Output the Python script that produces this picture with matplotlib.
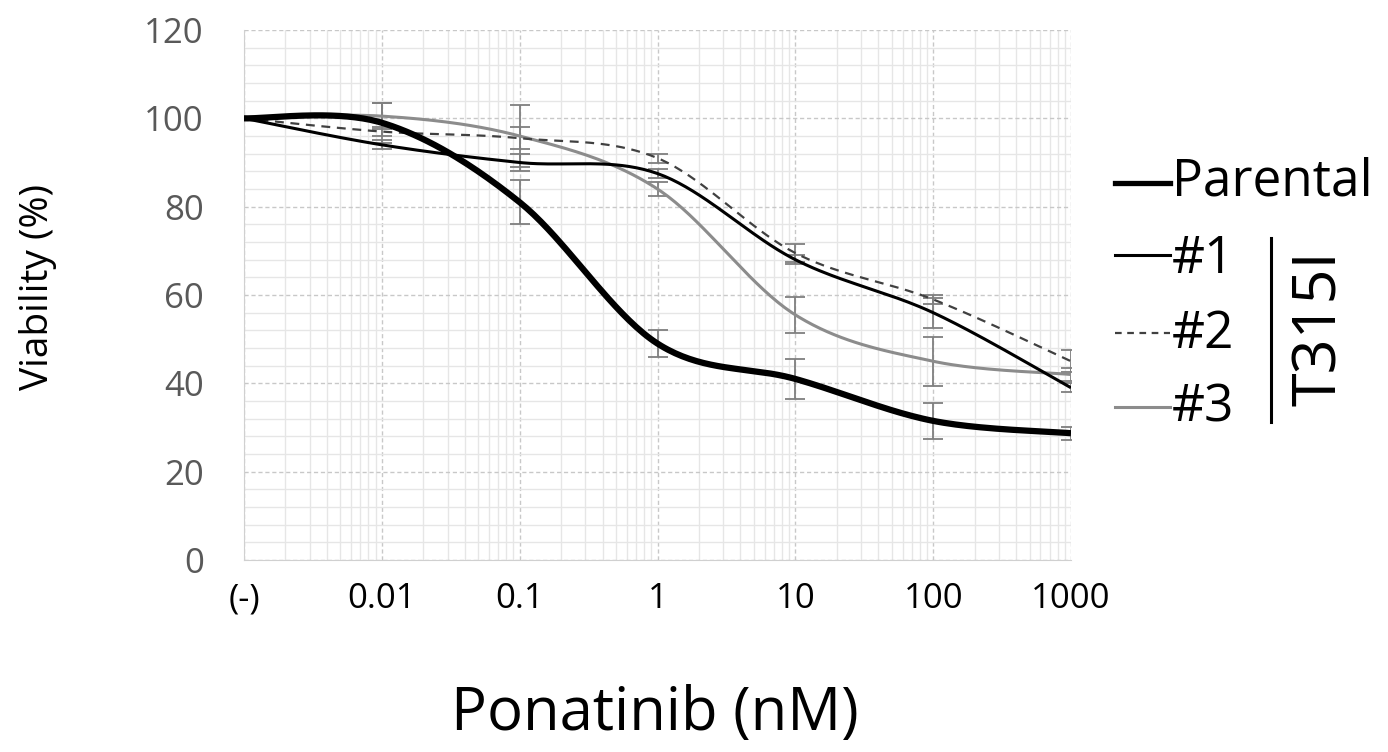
import numpy as np
import matplotlib
matplotlib.use("Agg")
import matplotlib.pyplot as plt
from matplotlib.ticker import FixedLocator, NullFormatter, MultipleLocator

plt.rcParams['font.family'] = ['Open Sans', 'DejaVu Sans']

# concentrations (nM); 0.001 stands in for the untreated "(-)" point
conc = [0.001, 0.01, 0.1, 1, 10, 100, 1000]
tick_labels = ["(-)", "0.01", "0.1", "1", "10", "100", "1000"]

parental     = [100, 99, 81, 49, 41, 31.5, 28.7]
parental_err = [0, 4.5, 5, 3, 4.5, 4, 1.5]
t1           = [100, 94, 90, 87.5, 68, 56, 39]
t1_err       = [0, 1, 2, 1, 1, 3.4, 1]
t2           = [100, 97, 95.5, 91, 69.5, 59, 45]
t2_err       = [0, 1, 2.5, 1, 2, 1, 2.5]
t3           = [100, 100.5, 96, 84, 55.5, 45, 42]
t3_err       = [0, 3, 7, 1.5, 4, 5.5, 1.5]

PX_DEC, PX_UNIT = 138.0, 4.42   # screen scale used for Excel-style smoothing
W, H = 1388, 752


def smooth(xs, ys, n=40):
    # Catmull-Rom / Bezier smoothing like Excel, done in screen-like units
    px = np.log10(xs) * PX_DEC
    py = np.asarray(ys, float) * PX_UNIT
    pts = np.column_stack([px, py])
    out = []
    for i in range(len(pts) - 1):
        p0 = pts[i - 1] if i > 0 else pts[i]
        p1, p2 = pts[i], pts[i + 1]
        p3 = pts[i + 2] if i + 2 < len(pts) else pts[i + 1]
        c1 = p1 + (p2 - p0) / 6
        c2 = p2 - (p3 - p1) / 6
        t = np.linspace(0, 1, n)[:, None]
        seg = ((1 - t) ** 3) * p1 + 3 * ((1 - t) ** 2) * t * c1 + 3 * (1 - t) * t ** 2 * c2 + t ** 3 * p2
        out.append(seg if i == 0 else seg[1:])
    seg = np.vstack(out)
    return 10 ** (seg[:, 0] / PX_DEC), seg[:, 1] / PX_UNIT


fig = plt.figure(figsize=(W / 100, H / 100), dpi=100)
ax = fig.add_axes([244 / W, 1 - 560 / H, (1071 - 244) / W, (560 - 30) / H])
ax.set_xscale("log")
ax.set_xlim(0.001, 1000)
ax.set_ylim(0, 120)

# grid
ax.xaxis.set_major_locator(FixedLocator(conc))
minors = [m * 10.0 ** e for e in range(-3, 3) for m in range(2, 10)]
ax.xaxis.set_minor_locator(FixedLocator(minors))
ax.xaxis.set_minor_formatter(NullFormatter())
ax.yaxis.set_major_locator(MultipleLocator(20))
ax.yaxis.set_minor_locator(MultipleLocator(4))
ax.grid(which="major", color="#c8c8c8", linestyle=(0, (3, 2)), linewidth=1)
ax.grid(which="minor", color="#e6e6e6", linestyle="-", linewidth=1)
ax.set_axisbelow(True)
for s in ["top", "right"]:
    ax.spines[s].set_visible(False)
for s in ["left", "bottom"]:
    ax.spines[s].set_color("#d0d0d0")
ax.tick_params(which="both", length=0)
ax.tick_params(axis="y", labelsize=25, labelcolor="#595959", pad=29)
ax.tick_params(axis="x", labelsize=25, labelcolor="black", pad=16)
ax.set_xticklabels(tick_labels)

series = [
    (t3, t3_err, "#8c8c8c", 2.2, "-"),
    (t2, t2_err, "#404040", 1.6, (0, (4, 3))),
    (t1, t1_err, "black", 2.2, "-"),
    (parental, parental_err, "black", 4.5, "-"),
]
for ys, err, col, lw, ls in series:
    ax.errorbar(conc[1:], ys[1:], yerr=err[1:], fmt="none", ecolor="#7f7f7f",
                elinewidth=1.3, capsize=7, capthick=1.3, zorder=3)
for ys, err, col, lw, ls in series:
    sx, sy = smooth(conc, ys)
    ax.plot(sx, sy, color=col, lw=lw, linestyle=ls, zorder=4, solid_capstyle="butt")

fig.text(38 / W, 1 - 287 / H, "Viability (%)", rotation=90, fontsize=28, ha="center", va="center")
fig.text(655 / W, 1 - 714 / H, "Ponatinib (nM)", fontsize=43, ha="center", va="center")

# legend drawn by hand like the original: (label, colour, width, style, line y, text baseline y)
legend_items = [
    ("Parental", "black", 3.8, "-", 183, 195),
    ("#1", "black", 2.2, "-", 255, 273),
    ("#2", "#404040", 1.6, (0, (3, 2.5)), 333, 348),
    ("#3", "#8c8c8c", 2.2, "-", 407, 421),
]
for label, col, lw, ls, ly, ty in legend_items:
    fig.add_artist(plt.Line2D([1115 / W, 1170 / W], [1 - ly / H, 1 - ly / H], color=col, lw=lw,
                              linestyle=ls, transform=fig.transFigure))
    fig.text(1172 / W, 1 - ty / H, label, fontsize=37, ha="left", va="baseline")
fig.add_artist(plt.Line2D([1271 / W, 1271 / W], [1 - 422 / H, 1 - 238 / H], color="black", lw=2.2,
                          transform=fig.transFigure))
fig.text(1320 / W, 1 - 328 / H, "T315I", fontsize=44, rotation=90, ha="center", va="center")

fig.savefig("out.png", dpi=100)
